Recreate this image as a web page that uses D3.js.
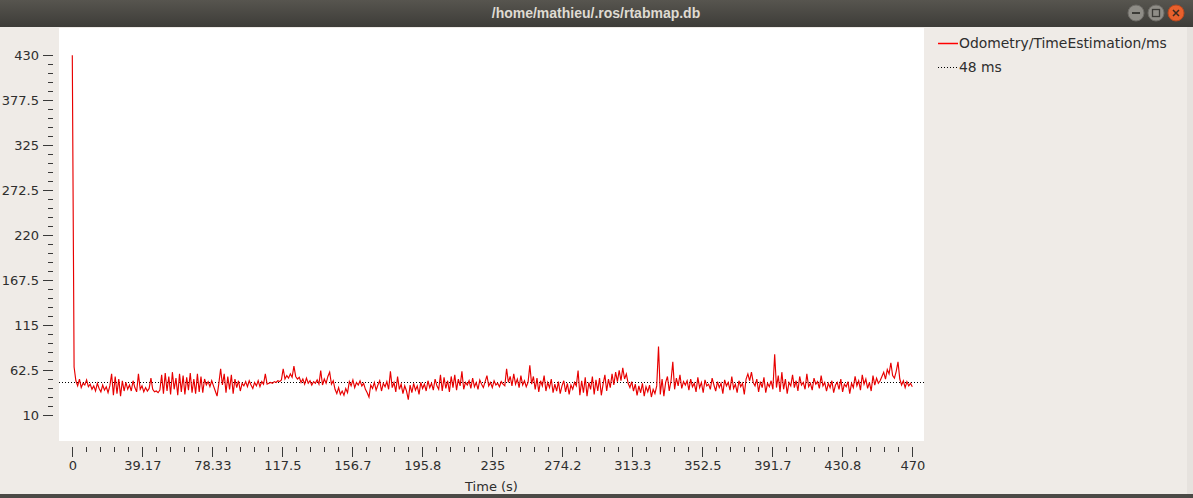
<!DOCTYPE html>
<html>
<head>
<meta charset="utf-8">
<script src="https://cdn.jsdelivr.net/npm/d3@7/dist/d3.min.js"></script>
<style>
  html, body { margin: 0; padding: 0; background: #efebe7; }
  svg { display: block; }
</style>
</head>
<body>
<svg id="chart" width="1193" height="498"></svg>
<script>
// ---- data ----
const windowTitle = "/home/mathieu/.ros/rtabmap.db";
const seriesName = "Odometry/TimeEstimation/ms";
const refName = "48 ms";
const refValue = 48;
const xAxisTitle = "Time (s)";
const xTickValues = [0, 39.17, 78.33, 117.5, 156.7, 195.8, 235, 274.2, 313.3, 352.5, 391.7, 430.8, 470];
const xTickLabels = ["0", "39.17", "78.33", "117.5", "156.7", "195.8", "235", "274.2", "313.3", "352.5", "391.7", "430.8", "470"];
const yTickValues = [10, 62.5, 115, 167.5, 220, 272.5, 325, 377.5, 430];
const yTickLabels = ["10", "62.5", "115", "167.5", "220", "272.5", "325", "377.5", "430"];
const timeStep = 1; // seconds between samples
const odometryMs = [
  430, 66, 50, 44, 52, 42, 47, 45, 51, 43,
  46, 40, 44, 38, 47, 41, 37, 45, 39, 43,
  36, 44, 58, 33, 55, 35, 52, 32, 50, 38,
  48, 40, 45, 38, 50, 42, 37, 58, 40, 44,
  37, 42, 38, 41, 53, 40, 37, 38, 36, 39,
  57, 35, 59, 38, 55, 34, 60, 40, 53, 33,
  58, 37, 56, 34, 54, 39, 59, 36, 52, 35,
  58, 37, 55, 36, 52, 45, 49, 43, 50, 44,
  38, 32, 47, 64, 45, 58, 36, 55, 40, 57,
  35, 52, 42, 50, 38, 47, 44, 49, 43, 50,
  45, 41, 48, 44, 50, 43, 49, 46, 58, 46,
  47, 48, 47, 49, 48, 50, 49, 51, 64, 52,
  56, 53, 58, 54, 67, 55, 52, 54, 48, 52,
  46, 53, 47, 50, 45, 49, 47, 51, 46, 62,
  45, 52, 47, 55, 60, 46, 50, 40, 35, 42,
  34, 38, 33, 41, 36, 49, 44, 51, 42, 48,
  45, 50, 44, 47, 40, 36, 31, 45, 41, 48,
  39, 45, 50, 38, 47, 43, 49, 40, 61, 42,
  48, 37, 55, 40, 46, 35, 44, 38, 28, 45,
  36, 47, 39, 44, 34, 48, 41, 46, 38, 50,
  42, 47, 39, 52, 44, 40, 57, 38, 54, 41,
  50, 37, 55, 42, 57, 39, 52, 44, 61, 40,
  48, 45, 50, 41, 53, 43, 48, 40, 51, 46,
  42, 49, 56, 44, 48, 42, 50, 45, 47, 43,
  49, 46, 44, 64, 48, 55, 44, 58, 46, 52,
  42, 56, 45, 50, 43, 48, 68, 46, 55, 40,
  53, 37, 50, 44, 56, 38, 48, 42, 52, 36,
  46, 38, 49, 35, 44, 50, 37, 47, 34, 45,
  40, 48, 44, 62, 33, 50, 36, 54, 32, 48,
  40, 55, 34, 51, 38, 53, 33, 46, 57, 38,
  52, 42, 58, 45, 60, 49, 62, 50, 65, 52,
  58, 47, 42, 49, 38, 46, 33, 44, 36, 47,
  32, 43, 37, 45, 31, 40, 35, 44, 90, 34,
  52, 32, 48, 55, 38, 50, 72, 40, 53, 44,
  57, 41, 49, 45, 50, 39, 52, 43, 47, 37,
  54, 42, 48, 36, 51, 44, 46, 40, 53, 45,
  38, 49, 42, 47, 35, 51, 44, 48, 39, 55,
  41, 46, 36, 50, 43, 47, 34, 52, 58, 50,
  60, 48, 44, 52, 37, 49, 42, 54, 36, 47,
  43, 50, 40, 81, 42, 56, 37, 60, 40, 52,
  35, 48, 44, 57, 42, 50, 38, 55, 45, 48,
  40, 58, 43, 47, 39, 53, 46, 49, 41, 56,
  44, 48, 38, 47, 42, 50, 36, 45, 48, 40,
  52, 37, 46, 43, 49, 35, 47, 42, 55, 44,
  50, 39, 57, 46, 52, 41, 48, 38, 56, 45,
  53, 47, 50, 55, 60, 52, 63, 58, 71, 56,
  53, 61, 72, 52, 45, 50, 42, 49, 44, 47,
  43
];

// ---- layout ----
const W = 1193, H = 498;
const canvas = { x0: 59, x1: 924, y0: 28, y1: 441 };
const svg = d3.select("#chart");
const FONT = "DejaVu Sans, Verdana, sans-serif";

// window title bar
const defs = svg.append("defs");
const grad = defs.append("linearGradient").attr("id", "tb").attr("x1", 0).attr("x2", 0).attr("y1", 0).attr("y2", 1);
grad.append("stop").attr("offset", "0%").attr("stop-color", "#57554f");
grad.append("stop").attr("offset", "100%").attr("stop-color", "#3d3c38");
svg.append("rect").attr("x", 0).attr("y", 0).attr("width", W).attr("height", 27).attr("fill", "url(#tb)");
svg.append("text").attr("x", 596).attr("y", 18).attr("text-anchor", "middle")
  .attr("font-family", "Liberation Sans, Arial, sans-serif").attr("font-weight", "bold")
  .attr("font-size", 14).attr("fill", "#dfdbd2").text(windowTitle);
// window buttons
const btn = svg.append("g");
[[1136, "#8f8d87"], [1156, "#8f8d87"]].forEach(([cx, c]) => {
  btn.append("circle").attr("cx", cx).attr("cy", 13).attr("r", 8).attr("fill", c).attr("stroke", "#6e6c67").attr("stroke-width", 1);
});
btn.append("rect").attr("x", 1132).attr("y", 12).attr("width", 8).attr("height", 2).attr("fill", "#3c3b37");
btn.append("rect").attr("x", 1152.5).attr("y", 9.5).attr("width", 7).attr("height", 7).attr("fill", "none").attr("stroke", "#3c3b37").attr("stroke-width", 1.3);
btn.append("circle").attr("cx", 1176).attr("cy", 13).attr("r", 8).attr("fill", "#e8602c").attr("stroke", "#b8481f").attr("stroke-width", 1);
btn.append("path").attr("d", "M1173,10 L1179,16 M1179,10 L1173,16").attr("stroke", "#3c2a20").attr("stroke-width", 1.5);

// bottom window edge and right edge
svg.append("rect").attr("x", 0).attr("y", 494).attr("width", W).attr("height", 4).attr("fill", "#4b4a46");
svg.append("rect").attr("x", 1187).attr("y", 27).attr("width", 6).attr("height", 467).attr("fill", "#e6e2de");

// plot canvas
svg.append("rect").attr("x", canvas.x0).attr("y", canvas.y0)
  .attr("width", canvas.x1 - canvas.x0).attr("height", canvas.y1 - canvas.y0).attr("fill", "#ffffff");

// scales
const x = d3.scaleLinear().domain([0, 470]).range([72.3, 912.3]);
const y = d3.scaleLinear().domain([10, 430]).range([415, 55.3]);

// x axis
const xMinor = d3.range(0, 12 * 5 + 1).map(i => i * 470 / 60);
const xAxisMinor = d3.axisBottom(x).tickValues(xMinor).tickSize(5).tickFormat("").tickSizeOuter(0);
const xAxisMajor = d3.axisBottom(x).tickValues(xTickValues).tickSize(10).tickPadding(4)
  .tickFormat((d, i) => xTickLabels[i]).tickSizeOuter(0);
const gxm = svg.append("g").attr("transform", "translate(0,447)").call(xAxisMinor);
const gx = svg.append("g").attr("transform", "translate(0,447)").call(xAxisMajor);
[gxm, gx].forEach(g => {
  g.select(".domain").remove();
  g.selectAll("line").attr("stroke", "#3a3a3a").attr("shape-rendering", "crispEdges");
});
gx.selectAll("text").attr("font-family", FONT).attr("font-size", 13).attr("fill", "#2e2e2e");

svg.append("text").attr("x", (canvas.x0 + canvas.x1) / 2).attr("y", 491).attr("text-anchor", "middle")
  .attr("font-family", FONT).attr("font-size", 13).attr("fill", "#2e2e2e").text(xAxisTitle);

// y axis
const yMinor = d3.range(0, 8 * 5 + 1).map(i => 10 + i * 10.5);
const yAxisMinor = d3.axisLeft(y).tickValues(yMinor).tickSize(5).tickFormat("").tickSizeOuter(0);
const yAxisMajor = d3.axisLeft(y).tickValues(yTickValues).tickSize(10).tickPadding(4)
  .tickFormat((d, i) => yTickLabels[i]).tickSizeOuter(0);
const gym = svg.append("g").attr("transform", "translate(53,0)").call(yAxisMinor);
const gy = svg.append("g").attr("transform", "translate(53,0)").call(yAxisMajor);
[gym, gy].forEach(g => {
  g.select(".domain").remove();
  g.selectAll("line").attr("stroke", "#3a3a3a").attr("shape-rendering", "crispEdges");
});
gy.selectAll("text").attr("font-family", FONT).attr("font-size", 13).attr("fill", "#2e2e2e");

// clip to canvas
defs.append("clipPath").attr("id", "clip").append("rect")
  .attr("x", canvas.x0).attr("y", canvas.y0).attr("width", canvas.x1 - canvas.x0).attr("height", canvas.y1 - canvas.y0);
const plot = svg.append("g").attr("clip-path", "url(#clip)");

// reference dotted line at 48 ms
plot.append("line").attr("x1", canvas.x0).attr("x2", canvas.x1)
  .attr("y1", Math.round(y(refValue)) + 0.5).attr("y2", Math.round(y(refValue)) + 0.5)
  .attr("stroke", "#000").attr("stroke-width", 1).attr("stroke-dasharray", "1,2");

// series line
const line = d3.line().x((d, i) => x(i * timeStep)).y(d => y(d));
plot.append("path").datum(odometryMs).attr("d", line)
  .attr("fill", "none").attr("stroke", "#e80000").attr("stroke-width", 1.15).attr("stroke-linejoin", "miter");

// legend
const lg = svg.append("g");
lg.append("line").attr("x1", 938).attr("x2", 958).attr("y1", 43.5).attr("y2", 43.5)
  .attr("stroke", "#ff0000").attr("stroke-width", 1.5);
lg.append("text").attr("x", 959).attr("y", 48).attr("font-family", FONT).attr("font-size", 13.9)
  .attr("fill", "#2e2e2e").text(seriesName);
lg.append("line").attr("x1", 938).attr("x2", 958).attr("y1", 67.5).attr("y2", 67.5)
  .attr("stroke", "#000").attr("stroke-width", 1).attr("stroke-dasharray", "1,2");
lg.append("text").attr("x", 959).attr("y", 72).attr("font-family", FONT).attr("font-size", 13.9)
  .attr("fill", "#2e2e2e").text(refName);
</script>
</body>
</html>
